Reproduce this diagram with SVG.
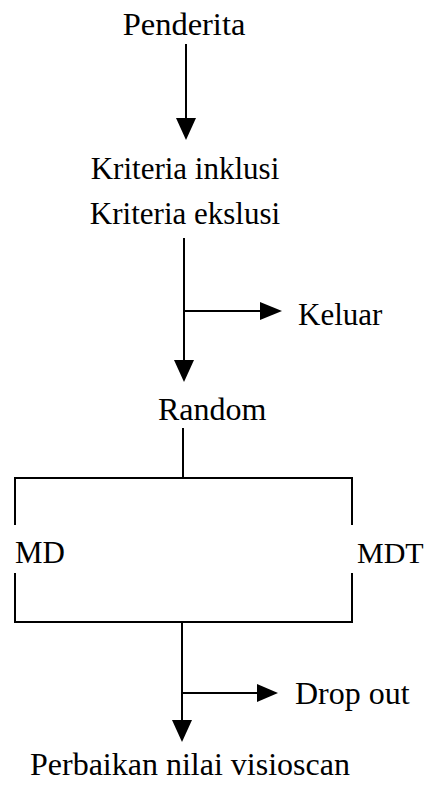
<svg xmlns="http://www.w3.org/2000/svg" width="430" height="786" viewBox="0 0 430 786">
  <style>
    .t { font-family: "Liberation Serif", "Times New Roman", serif; font-size: 31px; fill: #000; }
    .ln { stroke: #000; stroke-width: 2; fill: none; }
    .hd { fill: #000; stroke: none; }
  </style>
  <rect width="430" height="786" fill="#fff"/>

  <!-- connectors -->
  <g id="connectors">
    <!-- Penderita to criteria -->
    <line class="ln" x1="186" y1="44" x2="186" y2="120"/>
    <polygon class="hd" points="176,118 196,118 186,140"/>
    <!-- criteria to Random, with exit branch -->
    <line class="ln" x1="184" y1="238" x2="184" y2="362"/>
    <polygon class="hd" points="174,360 194,360 184,382"/>
    <line class="ln" x1="184" y1="311" x2="262" y2="311"/>
    <polygon class="hd" points="260,302 282,311 260,320"/>
    <!-- Random to the two arms -->
    <line class="ln" x1="183" y1="428" x2="183" y2="478"/>
    <polyline class="ln" points="15,525 15,478 352,478 352,525"/>
    <polyline class="ln" points="15,573 15,622 352,622 352,573"/>
    <!-- arms to outcome, with drop-out branch -->
    <line class="ln" x1="182" y1="622" x2="182" y2="722"/>
    <polygon class="hd" points="172,720 192,720 182,742"/>
    <line class="ln" x1="182" y1="693" x2="258" y2="693"/>
    <polygon class="hd" points="257,684 278,693 257,702"/>
  </g>

  <g id="penderita"><text class="t" x="184" y="35" text-anchor="middle" style="font-size:32.5px">Penderita</text></g>
  <g id="kriteria">
    <text class="t" x="185" y="179" text-anchor="middle">Kriteria inklusi</text>
    <text class="t" x="185" y="224" text-anchor="middle">Kriteria ekslusi</text>
  </g>
  <g id="keluar"><text class="t" x="298" y="325">Keluar</text></g>
  <g id="random"><text class="t" x="158" y="420" style="font-size:32px">Random</text></g>
  <g id="md"><text class="t" x="15" y="563">MD</text></g>
  <g id="mdt"><text class="t" x="357" y="563" style="font-size:30px">MDT</text></g>
  <g id="dropout"><text class="t" x="295" y="704" style="font-size:32px">Drop out</text></g>
  <g id="perbaikan"><text class="t" x="30" y="775" style="font-size:32px">Perbaikan nilai visioscan</text></g>
</svg>
